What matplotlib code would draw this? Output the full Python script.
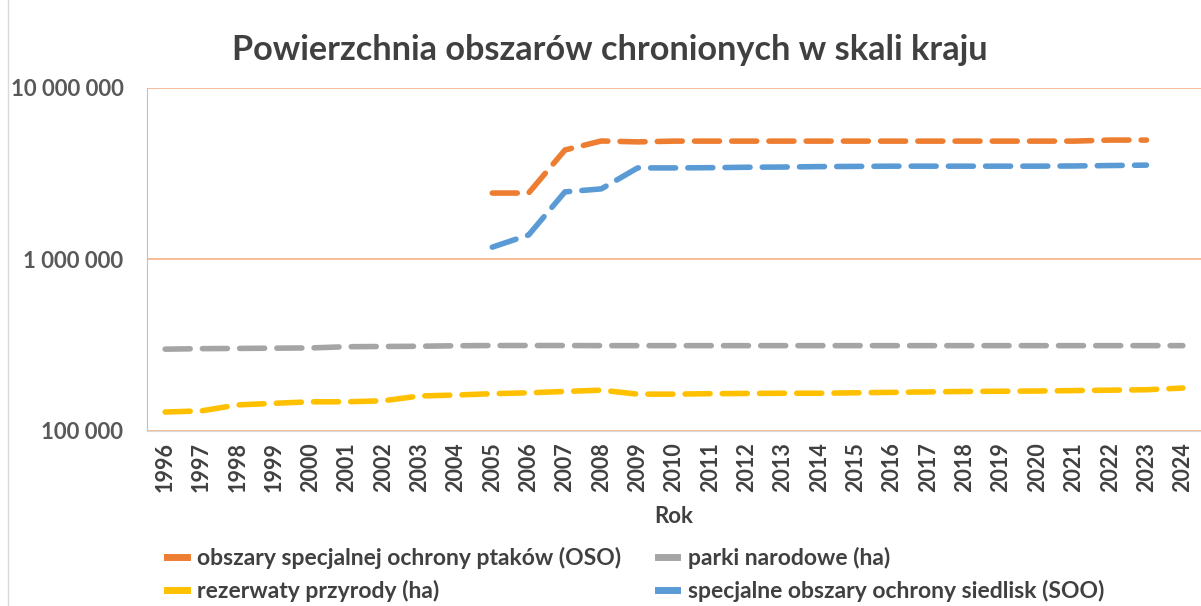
import matplotlib
matplotlib.use("Agg")
import matplotlib.pyplot as plt
from matplotlib.ticker import FixedLocator, NullLocator
from matplotlib.lines import Line2D

years = list(range(1996, 2025))
years_n2k = list(range(2005, 2024))

parki = [300000, 302000, 303000, 304000, 305000, 310000, 311000, 312000, 314000, 315000,
         315000, 315000, 314500, 314500, 314500, 314500, 314500, 314500, 314500, 314500,
         314500, 314500, 314500, 314500, 314500, 314500, 314500, 314500, 314500]
rezerwaty = [129000, 131000, 142000, 145000, 148000, 148000, 150000, 160000, 162000, 165000,
             167000, 170000, 173000, 164000, 164000, 165000, 165500, 166000, 166000, 167000,
             168000, 169000, 170000, 170500, 171000, 172000, 173000, 174000, 178000]
oso = [2440000, 2440000, 4350000, 4910000, 4850000, 4900000, 4900000, 4900000, 4900000, 4900000,
       4900000, 4900000, 4900000, 4900000, 4900000, 4900000, 4900000, 4970000, 4970000]
soo = [1180000, 1390000, 2480000, 2580000, 3420000, 3420000, 3430000, 3450000, 3460000, 3480000,
       3490000, 3500000, 3500000, 3500000, 3500000, 3500000, 3510000, 3530000, 3550000]

labels = ["obszary specjalnej ochrony ptaków (OSO)", "parki narodowe (ha)",
          "rezerwaty przyrody (ha)", "specjalne obszary ochrony siedlisk (SOO)"]
c_oso, c_park, c_rez, c_soo = "#ED7D31", "#A5A5A5", "#FFC000", "#5B9BD5"

plt.rcParams['font.family'] = ['Lato', 'DejaVu Sans']

fig = plt.figure(figsize=(12.01, 6.06), dpi=100)
ax = fig.add_axes([0.1224, 0.2888, 0.8776, 0.566])

lw = 4.0
dash = (0, (4.5, 2.2))
kw = dict(lw=lw, linestyle=dash, dash_capstyle='round', solid_capstyle='round')
ax.plot(years_n2k, oso, color=c_oso, **kw)
ax.plot(years, parki, color=c_park, **kw)
ax.plot(years, rezerwaty, color=c_rez, **kw)
ax.plot(years_n2k, soo, color=c_soo, **kw)

ax.set_yscale('log')
ax.set_ylim(1e5, 1e7)
ax.set_xlim(1995.5, 2024.5)
ax.yaxis.set_major_locator(FixedLocator([1e5, 1e6, 1e7]))
ax.yaxis.set_minor_locator(NullLocator())
ax.set_yticklabels(["100 000", "1 000 000", "10 000 000"])
ax.set_xticks(years)
ax.set_xticklabels([str(y) for y in years], rotation=90)
for t in ax.get_yticklabels():
    t.set_fontsize(16); t.set_fontweight('bold'); t.set_color('#595959')
for t in ax.get_xticklabels():
    t.set_fontsize(15.5); t.set_fontweight('bold'); t.set_color('#404040')
ax.tick_params(axis='x', length=0, pad=8)
ax.tick_params(axis='y', length=0, pad=17)
ax.grid(axis='y', color='#F4B183', lw=1.2)
ax.set_axisbelow(True)
for s in ['top', 'right']:
    ax.spines[s].set_visible(False)
ax.spines['left'].set_color('#A9C4EB')
ax.spines['bottom'].set_color('#D9D9D9')

ax.set_xlabel("Rok", fontsize=16, fontweight='bold', color='#404040', labelpad=10)
fig.text(0.508, 0.917, "Powierzchnia obszarów chronionych w skali kraju",
         ha='center', va='center', fontsize=24.7, fontweight='bold', color='#404040')

handles = [Line2D([0], [0], color=c, lw=5) for c in [c_oso, c_rez, c_park, c_soo]]
hl = [labels[0], labels[2], labels[1], labels[3]]
leg = fig.legend(handles, hl, ncol=2, loc='center left', bbox_to_anchor=(0.122, 0.052),
                 frameon=False, handlelength=0.85, handletextpad=0.45, columnspacing=1.6,
                 labelspacing=0.45, prop={'size': 16.5, 'weight': 'bold'})
for t in leg.get_texts():
    t.set_color('#404040')

fig.add_artist(Line2D([0.007, 0.007], [0, 1], color='#D9D9D9', lw=1))

fig.savefig("out.png", dpi=100)
